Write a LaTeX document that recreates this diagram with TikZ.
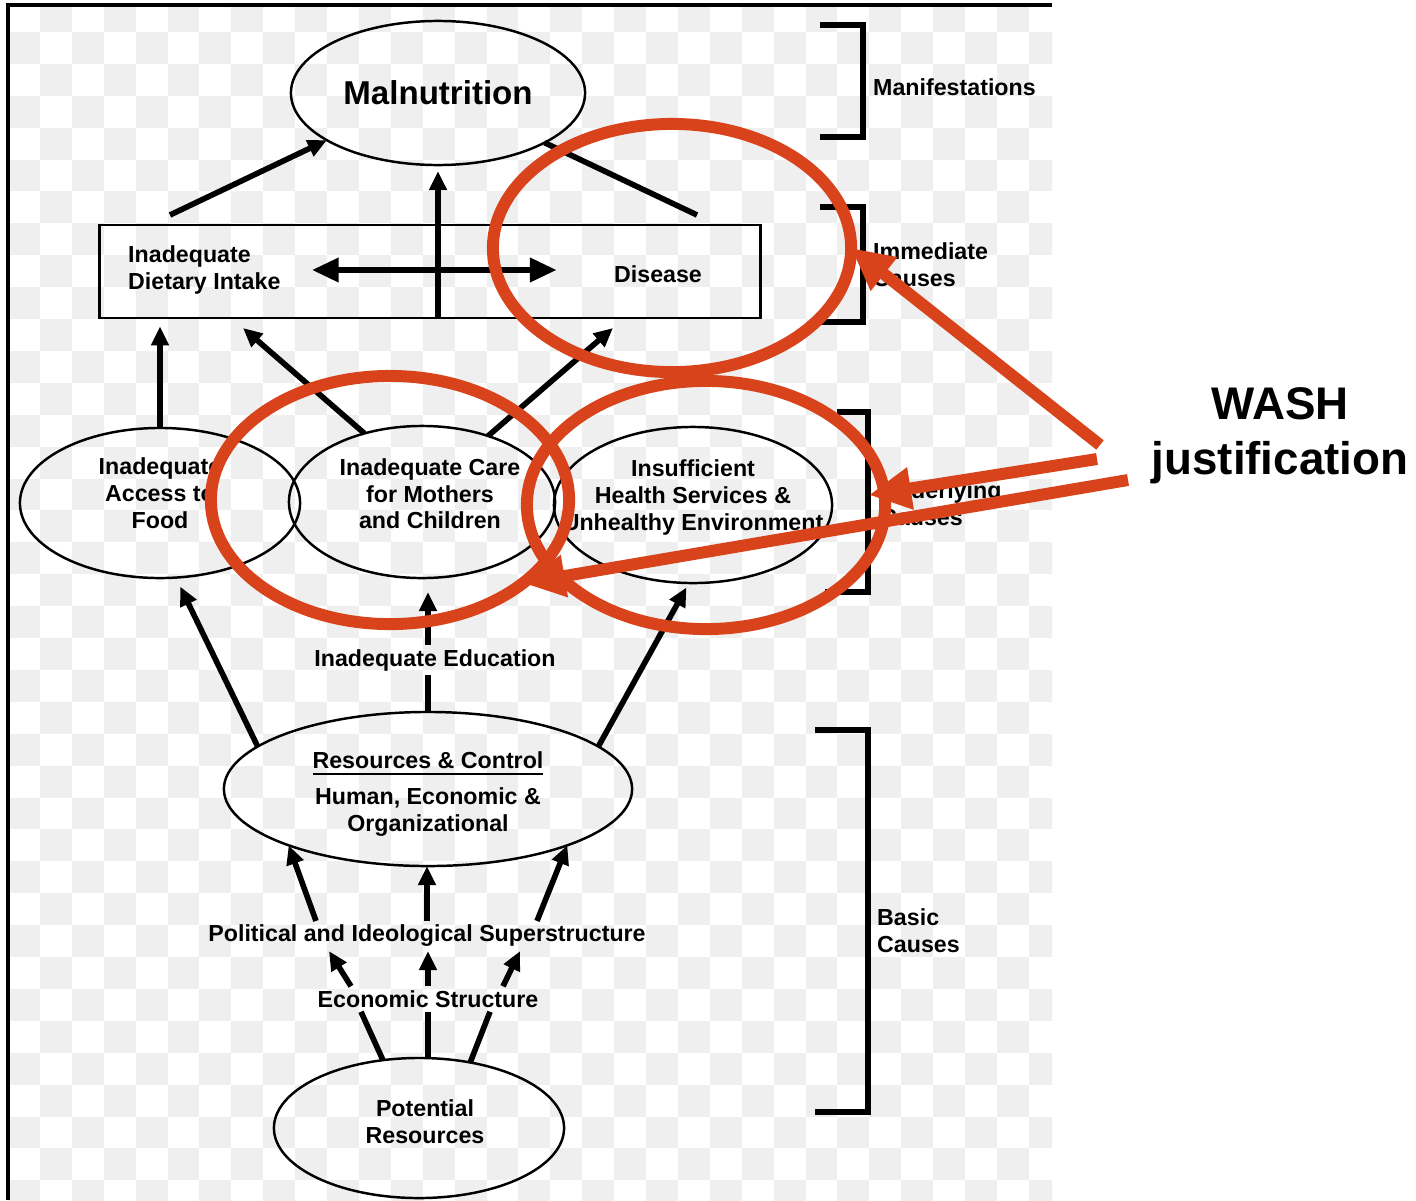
\documentclass[tikz,border=0pt]{standalone}
\usepackage{fontspec}
\setmainfont{Liberation Sans}
\usetikzlibrary{shapes.geometric,arrows.meta,calc}
\definecolor{washred}{RGB}{217,67,28}
\definecolor{chk}{gray}{0.937}

\begin{document}
\begin{tikzpicture}[x=0.01cm,y=-0.01cm,
    txt/.style={font=\fontsize{6.6}{7.6}\selectfont\bfseries,align=center,inner sep=1pt},
    oval/.style={draw,ellipse,line width=0.7pt,inner sep=0pt,outer sep=0pt},
    arr/.style={line width=1.6pt,-{Triangle[length=0.19cm,width=0.17cm]}},
    dbl/.style={line width=1.9pt,{Triangle[length=0.27cm,width=0.23cm]}-{Triangle[length=0.27cm,width=0.23cm]}},
    ln/.style={line width=1.6pt},
    brk/.style={line width=1.5pt},
    ring/.style={draw=washred,ellipse,line width=3.4pt,minimum width=3.58cm,minimum height=2.48cm,inner sep=0pt,outer sep=0pt},
    redarr/.style={draw=washred,line width=3.4pt,-{Triangle[length=0.42cm,width=0.4cm]}}]
  \useasboundingbox (0,0) rectangle (1416,1200);
  \fill[white] (0,0) rectangle (1416,1200);
  \begin{scope}
    \clip (8,5) rectangle (1052,1200);
    \foreach \i in {0,...,32}{
      \pgfmathtruncatemacro{\st}{mod(\i+1,2)}
      \foreach \j in {0,...,18}
        \fill[chk] ({8+31.9*\i},{31.9*(2*\j+\st)}) rectangle ++(31.9,31.9);
    }
  \end{scope}
  \draw[line width=0.9pt] (8,1200) -- (8,5) -- (1052,5);

  \node[oval,minimum width=2.94cm,minimum height=1.44cm,font=\fontsize{9.4}{11}\selectfont\bfseries] (maln) at (438,93) {Malnutrition};
  \node[draw,line width=0.8pt,minimum width=6.6cm,minimum height=0.93cm,inner sep=0pt] (immbox) at (430,271.5) {};
  \node[txt,anchor=west,align=left] (diet) at (124,270) {Inadequate\\Dietary Intake};
  \node[txt] (dis) at (658,274) {Disease};

  \node[oval,minimum width=2.8cm,minimum height=1.5cm,
    label={[txt,yshift=2.8pt]center:Inadequate\\Access to\\Food}] (access) at (160,503) {};
  \node[oval,minimum width=2.66cm,minimum height=1.52cm,
    label={[txt,xshift=0.08cm,yshift=2.3pt]center:Inadequate Care\\for Mothers\\and Children}] (care) at (422,502) {};
  \node[oval,minimum width=2.78cm,minimum height=1.56cm,
    label={[txt,yshift=2.1pt]center:Insufficient\\Health Services \&\\Unhealthy Environment}] (health) at (693,505) {};

  \node[txt] (edu) at (435,660) {Inadequate Education};
  \node[oval,minimum width=4.08cm,minimum height=1.54cm,
    label={[txt,yshift=-1.5pt]center:\underline{Resources \& Control}\\[2.6pt]Human, Economic \&\\Organizational}] (res) at (428,789) {};
  \node[txt] (pol) at (427,936) {Political and Ideological Superstructure};
  \node[txt] (eco) at (428,999) {Economic Structure};
  \node[oval,minimum width=2.9cm,minimum height=1.4cm,
    label={[txt,xshift=0.06cm,yshift=1.85pt]center:Potential\\Resources}] (pot) at (419,1128) {};

  \draw[brk] (820,25) -- (863,25) -- (863,137) -- (820,137);
  \node[txt,anchor=west] (manif) at (869,87) {Manifestations};
  \draw[brk] (820,207) -- (863,207) -- (863,322) -- (820,322);
  \node[txt,anchor=west,align=left] (immc) at (869,265) {Immediate\\Causes};
  \draw[brk] (837,412) -- (868,412) -- (868,592) -- (825,592);
  \node[txt,anchor=west,align=left] (undc) at (876,504) {Underlying\\Causes};
  \draw[brk] (815,730) -- (868,730) -- (868,1112) -- (815,1112);
  \node[txt,anchor=west,align=left] (basc) at (873,931) {Basic\\Causes};

  \coordinate (dl) at (170,215);
  \coordinate (dr) at (697,215);
  \coordinate (ptd) at (243,328);
  \coordinate (pts) at (613,328);
  \draw[arr] (dl) -- (maln.203);
  \draw[arr,shorten >=0.06cm] (immbox.south -| maln.south) -- (maln.south);
  \draw[ln] (dr) -- (maln.-25);
  \draw[dbl,shorten <=0.27cm,shorten >=0.53cm] (diet.east) -- (diet.east -| dis.west);

  \draw[arr,shorten >=0.07cm] (access.north) -- (access.north |- immbox.south);
  \draw[arr] (care.130) -- (ptd);
  \draw[arr] (care.45) -- (pts);

  \draw[arr,shorten >=0.1cm] (res.166) -- (access.-78);
  \draw[ln] (res.north) -- (res.north |- edu.south);
  \draw[arr,shorten >=0.14cm] (res.north |- edu.north) -- (res.north |- care.south);
  \draw[arr,shorten >=0.05cm] (res.14) -- (health.-93);

  \draw[arr] ($(pol.north)+(-111,0)$) -- (res.202);
  \draw[arr] (pol.north) -- (pol.north |- res.south);
  \draw[arr] ($(pol.north)+(110,0)$) -- (res.-22);

  \draw[arr] ($(eco.north)+(-77,0)$) -- ($(pol.south)+(-98,0)$);
  \draw[arr] (eco.north) -- (eco.north |- pol.south);
  \draw[arr] ($(eco.north)+(75,0)$) -- ($(pol.south)+(93,0)$);

  \draw[ln] (pot.118) -- ($(eco.south)+(-67,0)$);
  \draw[ln] (eco.south |- pot.north) -- (eco.south);
  \draw[ln] (pot.52) -- ($(eco.south)+(62,0)$);

  \node[ring] (ringdis) at (672,248) {};
  \node[ring] (ringcare) at (390,500) {};
  \node[ring] (ringhlth) at (706,505) {};

  \node[font=\fontsize{13}{15.6}\selectfont\bfseries,align=center] (wash) at (1280,436) {WASH\\justification};
  \coordinate (w1) at (1100,445);
  \coordinate (w2) at (1097,459);
  \coordinate (w3) at (1128,480);
  \coordinate (t2) at (869,495);
  \draw[redarr] (w1) -- (ringdis.east);
  \draw[redarr] (w2) -- (t2);
  \draw[redarr] (w3) -- (ringcare.-32);
\end{tikzpicture}
\end{document}
